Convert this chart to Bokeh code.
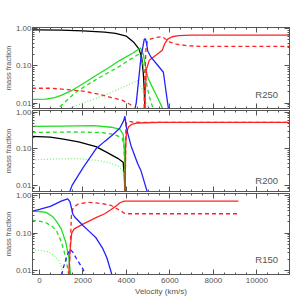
from bokeh.plotting import figure
from bokeh.layouts import column
from bokeh.models import FixedTicker, LinearAxis, LogAxis, Range1d, Label, PrintfTickFormatter
from bokeh.embed import file_html
from bokeh.resources import INLINE

# ---------------- DATA ----------------
x_ticks = [0, 2000, 4000, 6000, 8000, 10000]
y_ticks = [0.01, 0.1, 1.0]
panel_names = ["R250", "R200", "R150"]

# R250
r250_black_v = [-350, 0, 1000, 2000, 3000, 3500, 4000, 4350, 4580, 4700, 4780, 4820, 4850, 4870]
r250_black = [0.92, 0.92, 0.90, 0.86, 0.80, 0.74, 0.62, 0.42, 0.28, 0.17, 0.06, 0.022, 0.006, 0.001]
r250_gsol_v = [-350, 300, 700, 1000, 1500, 2000, 2600, 3200, 3700, 4300, 4650, 4780, 4900, 5000, 5300, 5700, 5800]
r250_gsol = [0.0125, 0.0128, 0.014, 0.016, 0.022, 0.033, 0.055, 0.09, 0.14, 0.22, 0.30, 0.20, 0.08, 0.045, 0.02, 0.0065, 0.004]
r250_gdash_v = [700, 1200, 1600, 2000, 2800, 3600, 4100, 4600, 4750, 4900, 5050, 5200, 5300]
r250_gdash = [0.006, 0.011, 0.018, 0.026, 0.05, 0.09, 0.14, 0.21, 0.12, 0.04, 0.015, 0.008, 0.005]
r250_gdot_v = [1300, 2000, 2850, 3670, 4200, 4500, 4700, 4900, 5050, 5150]
r250_gdot = [0.007, 0.01, 0.015, 0.024, 0.033, 0.04, 0.025, 0.011, 0.006, 0.004]
r250_rdash_v = [-350, 500, 1300, 2000, 2800, 3300, 3800, 4200, 4450, 4800, 4850, 4900, 4960, 5100, 5400, 5650, 5850, 6000, 6300, 6800, 7500, 11500]
r250_rdash = [0.025, 0.025, 0.023, 0.021, 0.017, 0.014, 0.012, 0.009, 0.004, 0.004, 0.05, 0.3, 0.45, 0.52, 0.58, 0.6, 0.5, 0.43, 0.38, 0.345, 0.33, 0.33]
r250_rsol_v = [4830, 4870, 4920, 5050, 5400, 5650, 5750, 5900, 6100, 6400, 7000, 11500]
r250_rsol = [0.002, 0.02, 0.08, 0.14, 0.2, 0.26, 0.38, 0.52, 0.6, 0.64, 0.66, 0.66]
r250_bsol_v = [4300, 4450, 4670, 4820, 4870, 4920, 4980, 5130, 5400, 5700, 5800, 5950, 6000]
r250_bsol = [0.004, 0.01, 0.17, 0.51, 0.53, 0.42, 0.25, 0.17, 0.11, 0.067, 0.025, 0.006, 0.004]

# R200
r200_black_v = [-350, 500, 1100, 1800, 2600, 3100, 3600, 3850, 3900, 3940, 3960]
r200_black = [0.22, 0.21, 0.185, 0.155, 0.115, 0.08, 0.055, 0.043, 0.02, 0.004, 0.001]
r200_gsol_v = [-350, 1000, 2500, 3300, 3700, 3850, 3900, 3930, 3950, 3960]
r200_gsol = [0.41, 0.42, 0.43, 0.39, 0.34, 0.25, 0.12, 0.03, 0.004, 0.001]
r200_gdash_v = [-350, 1500, 2800, 3400, 3800, 3880, 3930, 3950, 3960]
r200_gdash = [0.28, 0.29, 0.28, 0.25, 0.2, 0.12, 0.03, 0.004, 0.001]
r200_gdot_v = [-350, 800, 1800, 2600, 3200, 3650, 3850, 3920, 3950, 3960]
r200_gdot = [0.05, 0.053, 0.054, 0.049, 0.042, 0.033, 0.025, 0.012, 0.004, 0.001]
r200_rdash_v = [3945, 3970, 4000, 4100, 4300, 4700, 11500]
r200_rdash = [0.005, 0.3, 0.5, 0.57, 0.54, 0.53, 0.53]
r200_rsol_v = [3940, 3960, 4000, 4100, 4250, 4500, 5500, 11500]
r200_rsol = [0.005, 0.1, 0.28, 0.4, 0.47, 0.51, 0.53, 0.53]
r200_bsol_v = [1250, 1500, 2000, 2600, 3000, 3400, 3700, 3880, 3930, 3990, 4064, 4214, 4520, 4670, 4980, 5050]
r200_bsol = [0.004, 0.01, 0.03, 0.1, 0.16, 0.25, 0.37, 0.6, 0.78, 0.41, 0.26, 0.12, 0.039, 0.025, 0.006, 0.004]

# R150
r150_gsol_v = [-350, 0, 300, 600, 800, 1000, 1200, 1350, 1450, 1500]
r150_gsol = [0.39, 0.38, 0.36, 0.28, 0.2, 0.13, 0.06, 0.022, 0.006, 0.003]
r150_gdash_v = [-350, 0, 300, 600, 800, 1000, 1150, 1250, 1380, 1450]
r150_gdash = [0.22, 0.21, 0.19, 0.15, 0.11, 0.06, 0.03, 0.016, 0.006, 0.003]
r150_gdot_v = [-350, 0, 400, 650, 900, 1000, 1100, 1200]
r150_gdot = [0.036, 0.035, 0.032, 0.026, 0.018, 0.013, 0.007, 0.004]
r150_rdash_v = [1350, 1420, 1470, 1550, 1780, 2240, 2850, 3300, 3500, 3760, 3900, 4064, 9150]
r150_rdash = [0.005, 0.05, 0.29, 0.48, 0.6, 0.67, 0.62, 0.55, 0.47, 0.39, 0.34, 0.33, 0.33]
r150_rsol_v = [1330, 1400, 1480, 1600, 2000, 2600, 3000, 3300, 3500, 3700, 3900, 9150]
r150_rsol = [0.005, 0.03, 0.1, 0.13, 0.175, 0.26, 0.33, 0.43, 0.52, 0.65, 0.72, 0.72]
r150_bdash_v = [950, 1100, 1300, 1420, 1550, 1700, 2000, 2150, 2250]
r150_bdash = [0.005, 0.012, 0.028, 0.037, 0.03, 0.021, 0.011, 0.007, 0.004]
r150_bsol_v = [-350, 0, 500, 1000, 1300, 1400, 1480, 1530, 1620, 2000, 2300, 2600, 2900, 3100, 3300, 3400]
r150_bsol = [0.38, 0.43, 0.52, 0.72, 0.83, 0.7, 0.45, 0.33, 0.27, 0.16, 0.11, 0.075, 0.04, 0.022, 0.009, 0.005]

# ---------------- STYLE ----------------
GRAY = "#555555"
FONT = "Liberation Sans"
BLACK = "#000000"
GREEN = "#22dd22"
LGREEN = "#77ee77"
RED = "#ff2222"
BLUE = "#2222ff"
LW = 1.3

X_RANGE = (-320, 11500)
minor_x = list(range(-500, 11501, 500))
minor_y = [k * 10.0 ** e for e in (-3, -2, -1, 0) for k in range(2, 10)]


def style_axis(ax, show_labels):
    ax.axis_line_color = GRAY
    ax.major_tick_line_color = GRAY
    ax.minor_tick_line_color = GRAY
    ax.major_tick_in = 5
    ax.major_tick_out = 0
    ax.minor_tick_in = 2
    ax.minor_tick_out = 0
    if show_labels:
        ax.major_label_text_font = FONT
        ax.major_label_text_font_size = "8px"
        ax.major_label_text_color = GRAY
        ax.major_label_standoff = 1
    else:
        ax.major_label_text_font_size = "1px"
        ax.major_label_text_color = None
        ax.major_label_standoff = 0


def make_panel(series, name, label_y, y_range, height, b_top, b_bottom, bottom):
    p = figure(width=297, height=height, y_axis_type="log",
               x_range=Range1d(*X_RANGE), y_range=Range1d(*y_range),
               output_backend="svg", toolbar_location=None,
               min_border_left=30, min_border_right=8,
               min_border_top=b_top, min_border_bottom=b_bottom)
    p.grid.visible = False
    p.outline_line_color = GRAY
    p.background_fill_color = "white"
    p.border_fill_color = "white"

    xt = FixedTicker(ticks=x_ticks, minor_ticks=minor_x)
    yt = FixedTicker(ticks=y_ticks, minor_ticks=minor_y)

    xa = p.xaxis[0]
    xa.ticker = xt
    style_axis(xa, bottom)
    if bottom:
        xa.axis_label = "Velocity (km/s)"
        xa.axis_label_text_font = FONT
        xa.axis_label_text_font_size = "8px"
        xa.axis_label_text_font_style = "normal"
        xa.axis_label_text_color = GRAY
        xa.axis_label_standoff = 1
        xa.major_label_standoff = 3

    ya = p.yaxis[0]
    ya.ticker = yt
    ya.formatter = PrintfTickFormatter(format="%.2f")
    style_axis(ya, True)
    ya.axis_label = "mass fraction"
    ya.axis_label_text_font = FONT
    ya.axis_label_text_font_size = "7.5px"
    ya.axis_label_text_font_style = "normal"
    ya.axis_label_text_color = GRAY
    ya.axis_label_standoff = 0

    top_ax = LinearAxis(ticker=FixedTicker(ticks=x_ticks, minor_ticks=minor_x))
    style_axis(top_ax, False)
    p.add_layout(top_ax, "above")
    right_ax = LogAxis(ticker=FixedTicker(ticks=y_ticks, minor_ticks=minor_y))
    style_axis(right_ax, False)
    p.add_layout(right_ax, "right")

    for xs, ys, color, dash in series:
        p.line(xs, ys, line_color=color, line_width=LW, line_dash=dash)

    p.add_layout(Label(x=10450, y=label_y, text=name, text_align="center",
                       text_baseline="middle", text_font=FONT,
                       text_font_size="9.5px", text_color=GRAY))
    return p


s250 = [
    (r250_black_v, r250_black, BLACK, "solid"),
    (r250_gdot_v, r250_gdot, LGREEN, "1 2"),
    (r250_gdash_v, r250_gdash, GREEN, "4 3"),
    (r250_gsol_v, r250_gsol, GREEN, "solid"),
    (r250_rdash_v, r250_rdash, RED, "4 3"),
    (r250_rsol_v, r250_rsol, RED, "solid"),
    (r250_bsol_v, r250_bsol, BLUE, "solid"),
]
s200 = [
    (r200_black_v, r200_black, BLACK, "solid"),
    (r200_gdot_v, r200_gdot, LGREEN, "1 2"),
    (r200_gdash_v, r200_gdash, GREEN, "4 3"),
    (r200_gsol_v, r200_gsol, GREEN, "solid"),
    (r200_rsol_v, r200_rsol, RED, "solid"),
    (r200_rdash_v, r200_rdash, RED, "4 3"),
    (r200_bsol_v, r200_bsol, BLUE, "solid"),
]
s150 = [
    (r150_gdot_v, r150_gdot, LGREEN, "1 2"),
    (r150_gdash_v, r150_gdash, GREEN, "4 3"),
    (r150_gsol_v, r150_gsol, GREEN, "solid"),
    (r150_rdash_v, r150_rdash, RED, "4 3"),
    (r150_rsol_v, r150_rsol, RED, "solid"),
    (r150_bdash_v, r150_bdash, BLUE, "4 3"),
    (r150_bsol_v, r150_bsol, BLUE, "solid"),
]

p1 = make_panel(s250, panel_names[0], 0.017, (0.00715, 1.063), 109, 27, 1, False)
p2 = make_panel(s200, panel_names[1], 0.0138, (0.0068, 1.12), 83, 1, 1, False)
p3 = make_panel(s150, panel_names[2], 0.02, (0.00784, 1.15), 106, 1, 24, True)

layout = column(p1, p2, p3, spacing=0)
open("out.html", "w").write(file_html(layout, INLINE))
